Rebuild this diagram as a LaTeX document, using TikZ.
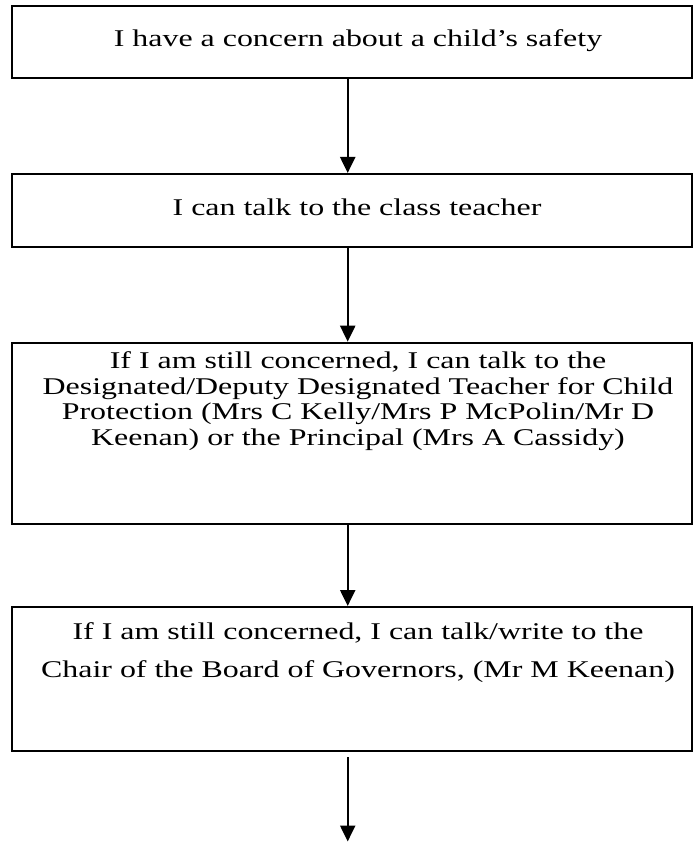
\documentclass[tikz,border=0pt]{standalone}
\usepackage{fontspec}
\usepackage{graphicx}
\setmainfont{Liberation Serif}
\usetikzlibrary{arrows.meta}
\newcommand{\wtxt}[1]{\scalebox{1.33}[1]{#1}}
\tikzset{
  box/.style={draw=black, line width=2pt, rectangle, inner sep=0pt, minimum width=680.3pt},
  txt/.style={anchor=base, inner sep=0pt, font=\fontsize{24}{26}\selectfont},
  arr/.style={draw=black, line width=2.2pt, -{Triangle[width=15pt,length=16pt]}}
}
\begin{document}
\begin{tikzpicture}[x=1pt,y=-1pt]
\useasboundingbox (0,0) rectangle (697,842);
% boxes
\node[box, minimum height=71.8pt] (b1) at (351.85,42.4) {};
\node[box, minimum height=72.7pt] (b2) at (351.85,210.35) {};
\node[box, minimum height=181.3pt] (b3) at (351.85,433.35) {};
\node[box, minimum height=143.7pt] (b4) at (351.85,678.85) {};
% texts
\node[txt] (t1) at (358,47) {\wtxt{I have a concern about a child’s safety}};
\node[txt] (t2) at (357,215) {\wtxt{I can talk to the class teacher}};
\node[txt] (t3a) at (358,368) {\wtxt{If I am still concerned, I can talk to the}};
\node[txt] (t3b) at (358,394) {\wtxt{Designated/Deputy Designated Teacher for Child}};
\node[txt] (t3c) at (358,419.5) {\wtxt{Protection (Mrs C Kelly/Mrs P McPolin/Mr D}};
\node[txt] (t3d) at (358,445) {\wtxt{Keenan) or the Principal (Mrs A Cassidy)}};
\node[txt] (t4a) at (358,639) {\wtxt{If I am still concerned, I can talk/write to the}};
\node[txt] (t4b) at (358,677) {\wtxt{Chair of the Board of Governors, (Mr M Keenan)}};
% arrows
\coordinate (ax) at (347.7,0);
\coordinate (e1) at (347.7,757);
\coordinate (e2) at (347.7,841.5);
\draw[arr] (b1.south -| ax) -- (b2.north -| ax);
\draw[arr] (b2.south -| ax) -- (b3.north -| ax);
\draw[arr] (b3.south -| ax) -- (b4.north -| ax);
\draw[arr] (e1) -- (e2);
\end{tikzpicture}
\end{document}
